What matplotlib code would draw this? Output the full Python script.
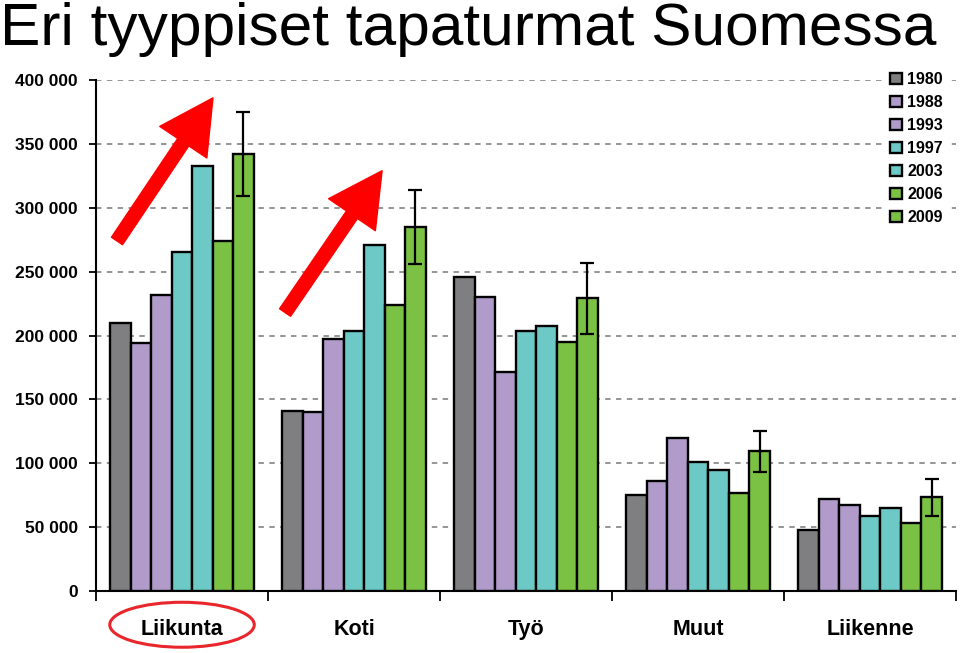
import matplotlib.pyplot as plt
import numpy as np
from matplotlib.patches import Ellipse

categories = ['Liikunta', 'Koti', 'Työ', 'Muut', 'Liikenne']
years = ['1980', '1988', '1993', '1997', '2003', '2006', '2009']
colors = ['#7f7f82', '#b09bca', '#b09bca', '#6dc9c6', '#6dc9c6', '#7bc143', '#7bc143']

v1980 = [210000, 141000, 245500, 75000, 47500]
v1988 = [194500, 140000, 230500, 86500, 72000]
v1993 = [232000, 197500, 171500, 119500, 67500]
v1997 = [265000, 203500, 203500, 101000, 59000]
v2003 = [333000, 271000, 207500, 95000, 65000]
v2006 = [274000, 224000, 195000, 76500, 53000]
v2009 = [342000, 285000, 229000, 109500, 73500]
err2009 = [33000, 29000, 28000, 16000, 14500]

series = [v1980, v1988, v1993, v1997, v2003, v2006, v2009]
yticks = [0, 50000, 100000, 150000, 200000, 250000, 300000, 350000, 400000]
ytick_labels = ['0', '50 000', '100 000', '150 000', '200 000', '250 000',
                '300 000', '350 000', '400 000']

plt.rcParams['font.family'] = ['Liberation Sans', 'DejaVu Sans']

fig = plt.figure(figsize=(9.6, 6.53), dpi=100)
ax = fig.add_axes([0.1, 0.0949, 0.896, 0.7826])

x = np.arange(len(categories))
w = 0.119
for i, (yr, vals) in enumerate(zip(years, series)):
    offs = x + (i - 3) * w
    ax.bar(offs, vals, width=w, color=colors[i], edgecolor='black', linewidth=1.7,
           label=yr, zorder=3)
    if yr == '2009':
        ax.errorbar(offs, vals, yerr=err2009, fmt='none', ecolor='black',
                    elinewidth=1.6, capsize=5, capthick=1.6, zorder=4)

ax.set_xlim(-0.5, 4.5)
ax.set_ylim(0, 400000)
ax.set_yticks(yticks)
ax.set_yticklabels(ytick_labels, fontsize=12.5, fontweight='bold')
ax.yaxis.grid(True, linestyle=(0, (3, 3)), color='#8c8c8c', linewidth=1.3, zorder=0)
ax.set_axisbelow(True)

ax.set_xticks(x)
ax.set_xticklabels(categories, fontsize=15.5, fontweight='bold')
ax.set_xticks(np.arange(-0.5, 5.0, 1.0), minor=True)
ax.tick_params(axis='x', which='major', length=0, pad=20)
ax.tick_params(axis='x', which='minor', length=7, width=1.3, direction='out')
ax.tick_params(axis='y', length=5, width=1.3, direction='out', pad=8)

ax.spines['top'].set_visible(False)
ax.spines['right'].set_visible(False)
ax.spines['left'].set_linewidth(1.5)
ax.spines['bottom'].set_linewidth(1.5)

leg = ax.legend(loc='upper right', bbox_to_anchor=(0.99, 1.025), frameon=True,
                edgecolor='white', framealpha=1, fancybox=False,
                prop={'weight': 'bold', 'size': 11.5}, handlelength=0.75,
                handleheight=0.75, handletextpad=0.3, labelspacing=0.5,
                borderpad=0.3, borderaxespad=0)
leg.set_zorder(5)

# red arrows
arrow = dict(arrowstyle='simple,head_length=3.2,head_width=3.4,tail_width=0.8',
             color='red', mutation_scale=12, shrinkA=0, shrinkB=0)
ax.annotate('', xy=(0.18, 386000), xytext=(-0.378, 274000), arrowprops=arrow,
            annotation_clip=False, zorder=6)
ax.annotate('', xy=(1.163, 329000), xytext=(0.599, 218000), arrowprops=arrow,
            annotation_clip=False, zorder=6)

# ellipse around Liikunta
ell = Ellipse((0.0, -0.066), 0.84, 0.088, transform=ax.get_xaxis_transform(),
              fill=False, edgecolor='#e8262b', linewidth=2.2, clip_on=False)
ax.add_patch(ell)

fig.text(0.0, 0.997, 'Eri tyyppiset tapaturmat Suomessa', fontsize=43.5,
         ha='left', va='top')

fig.savefig('out.png', dpi=100)
